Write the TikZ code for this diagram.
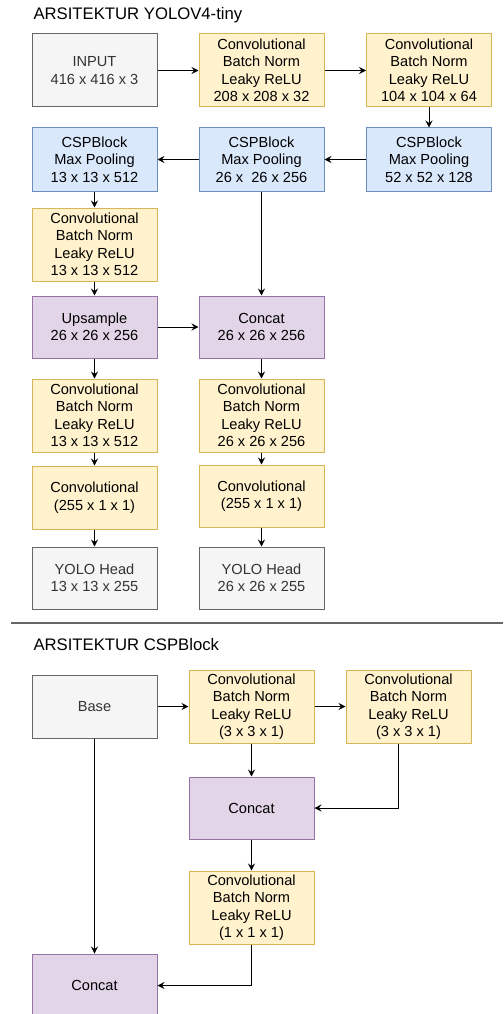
\documentclass[tikz,border=0pt]{standalone}
\usepackage{fontspec}
\setmainfont{Liberation Sans}
\usepackage{xcolor}
\usepackage{tikz}
\usetikzlibrary{arrows.meta, positioning, calc}

\definecolor{grayfill}{HTML}{F5F5F5}
\definecolor{graydraw}{HTML}{666666}
\definecolor{graytext}{HTML}{333333}
\definecolor{yelfill}{HTML}{FFF2CC}
\definecolor{yeldraw}{HTML}{D6B656}
\definecolor{bluefill}{HTML}{DAE8FC}
\definecolor{bluedraw}{HTML}{6C8EBF}
\definecolor{purfill}{HTML}{E1D5E7}
\definecolor{purdraw}{HTML}{9673A6}

\begin{document}
\begin{tikzpicture}[x=1pt, y=-1pt, line width=1pt,
    >={Stealth[length=7pt,width=7pt,inset=2.5pt]},
    box/.style={draw, rectangle, minimum width=125pt, inner sep=0pt, align=center,
      font=\fontsize{14.6pt}{17.5pt}\selectfont},
    inbox/.style={box, fill=grayfill, draw=graydraw, text=graytext, minimum height=63pt},
    convbox/.style={box, fill=yelfill, draw=yeldraw, minimum height=73pt},
    cspbox/.style={box, fill=bluefill, draw=bluedraw, minimum height=63pt},
    catbox/.style={box, fill=purfill, draw=purdraw, minimum height=62pt},
    title/.style={anchor=base west, inner sep=0pt, font=\fontsize{16.7pt}{20pt}\selectfont}]

            \useasboundingbox (0,0) rectangle (503,1014);
            \clip (0,0) rectangle (503,1014);

            \node[title] (t1) at (33,20) {ARSITEKTUR YOLOV4-tiny};

            \node[inbox, minimum height=73pt] (in) at (94.5,70.5) {INPUT\\416 x 416 x 3};
            \node[convbox] (c1) at (261.5,70.5) {Convolutional\\Batch Norm\\Leaky ReLU\\208 x 208 x 32};
            \node[convbox] (c2) at (429,70.5) {Convolutional\\Batch Norm\\Leaky ReLU\\104 x 104 x 64};

            \node[cspbox] (csp3) at (429,159.5) {CSPBlock\\Max Pooling\\52 x 52 x 128};
            \node[cspbox] (csp2) at (261.5,159.5) {CSPBlock\\Max Pooling\\26 x \ 26 x 256};
            \node[cspbox] (csp1) at (94.5,159.5) {CSPBlock\\Max Pooling\\13 x 13 x 512};

            \node[convbox] (c3) at (94.5,244.5) {Convolutional\\Batch Norm\\Leaky ReLU\\13 x 13 x 512};
            \node[catbox] (up) at (94.5,327) {Upsample\\26 x 26 x 256};
            \node[catbox] (cat1) at (261.5,327) {Concat\\26 x 26 x 256};

            \node[convbox] (c4) at (94.5,415.5) {Convolutional\\Batch Norm\\Leaky ReLU\\13 x 13 x 512};
            \node[convbox] (c5) at (261.5,415.5) {Convolutional\\Batch Norm\\Leaky ReLU\\26 x 26 x 256};
            \node[convbox, minimum height=63pt] (c6) at (94.5,497.5) {Convolutional\\(255 x 1 x 1)};
            \node[convbox, minimum height=62pt] (c7) at (261.5,496) {Convolutional\\(255 x 1 x 1)};
            \node[inbox, minimum height=62pt] (h1) at (94.5,578) {YOLO Head\\13 x 13 x 255};
            \node[inbox, minimum height=62pt] (h2) at (261.5,578) {YOLO Head\\26 x 26 x 255};

            \draw[->] (in) -- (c1);
            \draw[->] (c1) -- (c2);
            \draw[->] (c2) -- (csp3);
            \draw[->] (csp3) -- (csp2);
            \draw[->] (csp2) -- (csp1);
            \draw[->] (csp1) -- (c3);
            \draw[->] (csp2) -- (cat1);
            \draw[->] (c3) -- (up);
            \draw[->] (up) -- (cat1);
            \draw[->] (up) -- (c4);
            \draw[->] (cat1) -- (c5);
            \draw[->] (c4) -- (c6);
            \draw[->] (c5) -- (c7);
            \draw[->] (c6) -- (h1);
            \draw[->] (c7) -- (h2);

            \draw[graydraw, line width=1.5pt] (11,623) -- (503,623);

            \node[title] (t2) at (33,650) {ARSITEKTUR CSPBlock};

            \node[inbox] (base) at (94.5,706.5) {Base};
            \node[convbox] (ca) at (251.5,706.5) {Convolutional\\Batch Norm\\Leaky ReLU\\(3 x 3 x 1)};
            \node[convbox] (cb) at (408.5,706.5) {Convolutional\\Batch Norm\\Leaky ReLU\\(3 x 3 x 1)};
            \node[catbox] (cat2) at (251.5,808) {Concat};
            \node[convbox] (cc) at (251.5,907.5) {Convolutional\\Batch Norm\\Leaky ReLU\\(1 x 1 x 1)};
            \node[catbox, minimum height=63pt] (cat3) at (94.5,985.5) {Concat};

            \draw[->] (base) -- (ca);
            \draw[->] (ca) -- (cb);
            \draw[->] (ca) -- (cat2);
            \draw[->] ([xshift=-10.5pt]cb.south) |- (cat2);
            \draw[->] (cat2) -- (cc);
            \draw[->] (cc) |- (cat3);
            \draw[->] (base) -- (cat3);
          \end{tikzpicture}
\end{document}
